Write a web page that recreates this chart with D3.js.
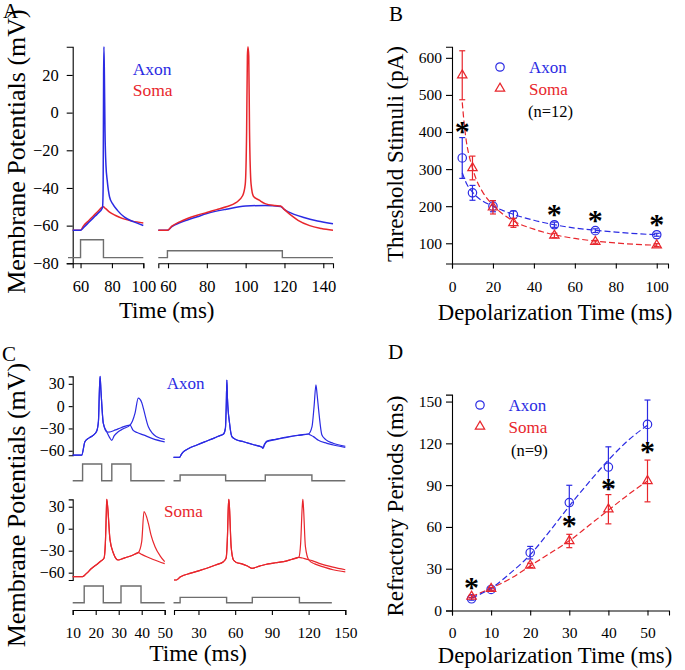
<!DOCTYPE html>
<html><head><meta charset="utf-8">
<script src="https://cdn.jsdelivr.net/npm/d3@7"></script>
<style>html,body{margin:0;padding:0;background:#fff;}</style>
</head><body>
<script>
// ---------- Panel A data (time ms, membrane potential mV) ----------
const aTicksY = [-80, -60, -40, -20, 0, 20];
const aTicksXLeft = [60, 80, 100];
const aTicksXRight = [60, 80, 100, 120, 140];
const aAxonLeft = [[55,-62.5],[60,-62.5],[62,-61],[65,-58.5],[68,-56],[71,-53.5],[74,-50.5],[74.4,-40],[74.7,20],[74.9,35],[75.2,20],[75.6,-10],[76.2,-28],[77,-36],[78.5,-44.8],[80.5,-48.5],[83.5,-51.9],[88,-55.5],[94,-58],[100,-59.9]];
const aSomaLeft = [[55,-62.5],[60,-62.5],[62,-60],[65,-57.5],[68,-55],[71,-52.5],[74.5,-50],[76,-51],[78.5,-52.8],[82,-54.5],[87,-56.3],[93,-57.6],[100,-58.6]];
const aAxonRight = [[55,-62.5],[59.7,-62.5],[62,-60.5],[66,-58.5],[70,-57],[75,-55.3],[80,-53.6],[90,-51.3],[100,-49.6],[110,-49.3],[118,-49.8],[120,-51.5],[125,-54],[130,-55.7],[137,-57.5],[145,-59]];
const aSomaRight = [[55,-62.5],[59.7,-62.5],[62,-60.3],[66,-58],[70,-56.2],[75,-54.5],[80,-53],[85,-51.5],[90,-50],[95,-47.8],[98.5,-44],[99.8,-38],[100.5,-10],[100.9,30],[101.2,35],[101.6,30],[102,-10],[102.8,-38],[104,-44.4],[107,-46.5],[110,-48.3],[115,-49.3],[118,-49.6],[120,-51.5],[124,-55],[127,-57.2],[133,-60],[139,-61.5],[145,-62.5]];
const aStimLeft = [[52,-77],[60,-67.5],[74.6,-77],[100,-77]];
const aStimRight = [[55,-77],[59.7,-73.3],[118.9,-77],[145,-77]];

// ---------- Panel B data ----------
const bTicksY = [100, 200, 300, 400, 500, 600];
const bTicksX = [0, 20, 40, 60, 80, 100];
const bDepol = [5, 10, 20, 30, 50, 70, 100];
const bAxonMean = [330, 236, 200, 177, 150, 134, 123];
const bAxonErr = [55, 20, 15, 10, 7, 5, 4];
const bSomaMean = [553, 303, 197, 155, 121, 104, 95];
const bSomaErr = [66, 32, 18, 12, 6, 4, 4];
const bAxonFit = [[5,290],[7,262],[10,238],[12,226],[15,214],[20,200],[25,188],[30,178],[40,162],[50,150],[60,141],[70,135],[80,130],[90,126],[100,123]];
const bSomaFit = [[5,480],[6,420],[7,375],[8,345],[10,303],[12,270],[15,238],[20,203],[25,178],[30,160],[40,138],[50,123],[60,113],[70,106],[80,101],[90,97],[100,95]];
const bStarX = [5, 50, 70, 100];
const bStarY = [414, 190, 174, 164];

// ---------- Panel C data ----------
const cTicksY = [-60, -30, 0, 30];
const cTicksXLeft = [10, 20, 30, 40, 50];
const cTicksXRight = [30, 60, 90, 120, 150];
const cAxonLeft1 = [[10,-66],[13.9,-66],[15.3,-48],[17,-43],[19,-39],[20.5,-33],[21.2,-20],[21.6,20],[21.9,40],[22.3,20],[23.3,-23],[24.8,-34.5],[26,-42],[27,-46],[28,-40],[29.8,-34.5],[32,-30.5],[34.9,-25.5],[36,-20],[37.1,-9.5],[38.5,10.7],[40,5],[40.7,-2.7],[42.9,-27.8],[44.5,-36],[46.5,-41.2],[50,-44.6]];
const cAxonLeft2 = [[10,-66],[13.9,-66],[15.3,-48],[17,-43],[19,-39],[20.5,-33],[21.2,-20],[21.6,20],[21.9,40],[22.3,20],[23.3,-23],[24.8,-34.5],[25.7,-35],[28.6,-32],[31,-29],[34.9,-25.5],[36.3,-32.6],[38,-35.5],[40.7,-38.7],[45,-44],[50,-48]];
const cAxonRight1 = [[9.6,-69],[14.5,-69],[16,-65],[17.8,-61.3],[22,-57],[28.7,-52.3],[35,-48],[42.3,-43.3],[47,-40],[50.5,-37.5],[52,-30],[52.7,0],[53.2,35],[53.7,10],[55.4,-23],[57.3,-41],[60,-44.5],[66.9,-47.9],[75,-52],[81.9,-55.4],[82.7,-57],[84,-52],[85.9,-48],[93,-45],[102.2,-42],[111,-39.5],[119.9,-37.5],[122.8,-27.6],[124.5,0],[126,28.6],[127,15],[128.2,-5],[130.9,-38.9],[134,-45],[140,-50],[150,-54]];
const cAxonRight2 = [[9.6,-69],[14.5,-69],[16,-65],[17.8,-61.3],[22,-57],[28.7,-52.3],[35,-48],[42.3,-43.3],[47,-40],[50.5,-37.5],[52,-30],[52.7,0],[53.2,35],[53.7,10],[55.4,-23],[57.3,-41],[60,-44.5],[66.9,-47.9],[75,-52],[81.9,-55],[82.7,-55.5],[84,-51],[85.9,-47],[93,-44.5],[102.2,-41.5],[111,-39.2],[119.9,-37.5],[121,-38.5],[124,-41],[128,-46],[135,-50],[142,-53],[150,-55.5]];
const cSomaLeft1 = [[10,-65.5],[14.3,-65.5],[16,-61],[18.3,-54],[20,-50],[21.9,-45],[23.6,-40.4],[24.2,-20],[24.6,20],[24.8,40],[25.2,30],[26.2,-14.5],[27.7,-33.5],[29.8,-42.7],[32,-40.5],[34.2,-38.2],[36.5,-35.5],[38.5,-32.7],[40,-17.7],[41,23.2],[42.9,7.3],[44,-8],[45.8,-24.5],[48,-37],[50,-45]];
const cSomaLeft2 = [[10,-65.5],[14.3,-65.5],[16,-61],[18.3,-54],[20,-50],[21.9,-45],[23.6,-40.4],[24.2,-20],[24.6,20],[24.8,40],[25.2,30],[26.2,-14.5],[27.7,-33.5],[29.8,-42.7],[32,-40.5],[34.2,-38.2],[36.5,-35.5],[38.5,-32.7],[40,-35],[42.2,-38.2],[45,-42],[50,-47.7]];
const cSomaRight1 = [[10,-70],[12,-70],[15,-66],[18,-63.5],[23,-61],[30,-57.5],[36.8,-54],[44,-49.5],[50.4,-45],[52.6,-40],[53.7,-10],[54.4,30],[54.8,40],[55.3,30],[56.7,-24.5],[58.6,-42.7],[61,-46],[65.5,-48],[70,-51],[73.6,-54],[80,-51],[87,-48],[93,-46.5],[99.6,-45],[106,-42],[112,-39],[113.5,-20],[114.8,30],[115.3,40],[115.8,30],[117.4,-24.5],[120.2,-42.7],[125,-48],[132,-52],[140,-56],[150,-59]];
const cSomaRight2 = [[10,-70],[12,-70],[15,-66],[18,-63.5],[23,-61],[30,-57.5],[36.8,-54],[44,-49.5],[50.4,-45],[52.6,-40],[53.7,-10],[54.4,30],[54.8,40],[55.3,30],[56.7,-24.5],[58.6,-42.7],[61,-46],[65.5,-48],[70,-51],[73.6,-54],[80,-51],[87,-48],[93,-46.5],[99.6,-45],[106,-42],[112,-39],[115,-40],[118,-41.5],[122.8,-43.5],[130,-48],[140,-52.5],[150,-56]];
// stimulus steps (relative amplitude)
const cStimTopLeft = [[10,0],[14.3,1],[22.6,0],[27,1],[35.3,0],[50,0]];
const cStimTopRight = [[9.6,0],[15,0.34],[52.2,0],[84.6,0.34],[122.7,0],[150,0]];
const cStimBotLeft = [[10,0],[15,1],[23.3,0],[31,1],[39.7,0],[50,0]];
const cStimBotRight = [[9.6,0],[15,0.32],[53,0],[74,0.32],[112.5,0],[139,0]];

// ---------- Panel D data ----------
const dTicksY = [0, 30, 60, 90, 120, 150];
const dTicksX = [0, 10, 20, 30, 40, 50];
const dDepol = [5, 10, 20, 30, 40, 50];
const dAxonMean = [8.4, 15.1, 41.5, 77.5, 103, 133.6];
const dAxonErr = [1, 1, 4.5, 12.4, 14.5, 17.5];
const dSomaMean = [10, 15.6, 32.4, 49.9, 72.7, 93];
const dSomaErr = [1, 1, 1.5, 4.8, 10.5, 15];
const dAxonFit = [[5,9],[10,16],[15,27],[20,40],[25,57],[30,75],[35,92],[40,108],[45,122],[50,133]];
const dSomaFit = [[5,10],[10,16],[15,23],[20,32],[25,41],[30,50],[35,61],[40,72],[45,83],[50,93]];
const dStarX = [5, 30, 40, 50];
const dStarY = [19.6, 64.2, 90.6, 117.5];

// ---------- drawing ----------
const FONT = "Liberation Serif, Times New Roman, serif";
const BLUE = "#2b2be3", RED = "#e8262c", GRAY = "#6e6e6e";
const svg = d3.select("body").append("svg").attr("width", 685).attr("height", 670)
  .attr("font-family", FONT);
svg.append("rect").attr("width", 685).attr("height", 670).attr("fill", "#fff");

function styleAxis(g, fs) {
  g.attr("font-family", FONT);
  g.selectAll("path.domain").attr("stroke", "#000").attr("stroke-width", 1.1);
  g.selectAll(".tick line").attr("stroke", "#000").attr("stroke-width", 1.1);
  g.selectAll(".tick text").attr("font-family", FONT).attr("font-size", fs).attr("fill", "#000");
}
function xAxis(scale, ticks, y, fs, tickLen, baseOff) {
  const pad = baseOff - 0.71 * fs - tickLen;
  const g = svg.append("g").attr("transform", `translate(0,${y})`)
    .call(d3.axisBottom(scale).tickValues(ticks).tickSizeOuter(0).tickSize(tickLen).tickPadding(pad));
  styleAxis(g, fs);
  return g;
}
function yAxis(scale, ticks, x, fs, tickLen, pad) {
  const g = svg.append("g").attr("transform", `translate(${x},0)`)
    .call(d3.axisLeft(scale).tickValues(ticks).tickSizeOuter(0).tickSize(tickLen).tickPadding(pad));
  styleAxis(g, fs);
  return g;
}
function trace(data, sx, sy, color, w, dash) {
  const p = svg.append("path").datum(data)
    .attr("d", d3.line().x(d => sx(d[0])).y(d => sy(d[1])).curve(d3.curveMonotoneX))
    .attr("fill", "none").attr("stroke", color).attr("stroke-width", w || 1.3)
    .attr("stroke-linejoin", "round");
  if (dash) p.attr("stroke-dasharray", dash);
  return p;
}
function stim(data, sx, sy) {
  svg.append("path").datum(data)
    .attr("d", d3.line().x(d => sx(d[0])).y(d => sy(d[1])).curve(d3.curveStepAfter))
    .attr("fill", "none").attr("stroke", GRAY).attr("stroke-width", 1.4);
}
function text(x, y, s, fs, color, anchor, rot) {
  const t = svg.append("text").attr("x", x).attr("y", y).text(s)
    .attr("font-family", FONT)
    .attr("font-size", fs).attr("fill", color || "#000")
    .attr("text-anchor", anchor || "start");
  if (rot) t.attr("transform", `rotate(${rot},${x},${y})`);
  return t;
}
function star(x, y) {
  svg.append("text").attr("x", x).attr("y", y + 14).text("*").attr("font-family", FONT)
    .attr("font-size", 30).attr("font-weight", "bold").attr("text-anchor", "middle").attr("fill", "#000");
}
function markers(xs, means, errs, sx, sy, color, kind) {
  xs.forEach((xv, i) => {
    const cx = sx(xv), cy = sy(means[i]);
    const y1 = sy(means[i] + errs[i]), y2 = sy(means[i] - errs[i]);
    svg.append("line").attr("x1", cx).attr("x2", cx).attr("y1", y1).attr("y2", y2).attr("stroke", color).attr("stroke-width", 1.2);
    [y1, y2].forEach(yy => svg.append("line").attr("x1", cx - 3).attr("x2", cx + 3).attr("y1", yy).attr("y2", yy).attr("stroke", color).attr("stroke-width", 1.2));
    if (kind === "circle") {
      svg.append("circle").attr("cx", cx).attr("cy", cy).attr("r", 4.2).attr("fill", "none").attr("stroke", color).attr("stroke-width", 1.2);
    } else {
      svg.append("path").attr("d", d3.symbol(d3.symbolTriangle, 38)()).attr("transform", `translate(${cx},${cy})`)
        .attr("fill", "none").attr("stroke", color).attr("stroke-width", 1.2);
    }
  });
}
function legendMark(x, y, color, kind) {
  if (kind === "circle") svg.append("circle").attr("cx", x).attr("cy", y).attr("r", 4.2).attr("fill", "none").attr("stroke", color).attr("stroke-width", 1.2);
  else svg.append("path").attr("d", d3.symbol(d3.symbolTriangle, 38)()).attr("transform", `translate(${x},${y})`).attr("fill", "none").attr("stroke", color).attr("stroke-width", 1.2);
}

// ===== Panel A =====
const aY = d3.scaleLinear().domain([-80, 35]).range([263.3, 46.7]);
const aXL = d3.scaleLinear().domain([55, 100]).range([72.7, 143.3]);
const aXR = d3.scaleLinear().domain([55, 145]).range([158.3, 333]);
yAxis(aY, aTicksY, 72.7, 16.5, 6, 8);
xAxis(aXL, aTicksXLeft, 263.3, 16.5, 5, 28.5);
xAxis(aXR, aTicksXRight, 263.3, 16.5, 5, 28.5);
stim(aStimLeft, aXL, aY);
stim(aStimRight, aXR, aY);
trace(aSomaLeft, aXL, aY, RED, 1.5);
trace(aAxonLeft, aXL, aY, BLUE, 1.5);
trace(aAxonRight, aXR, aY, BLUE, 1.5);
trace(aSomaRight, aXR, aY, RED, 1.5);
text(132.7, 75, "Axon", 17.5, BLUE);
text(132.7, 96, "Soma", 17.5, RED);
text(166.7, 318, "Time (ms)", 23, "#000", "middle");
text(25, 151.5, "Membrane Potentials (mV)", 26, "#000", "middle", -90);
text(3, 18, "A", 21);

// ===== Panel B =====
const bX = d3.scaleLinear().domain([0, 105.5]).range([452, 668]);
const bY = d3.scaleLinear().domain([45.5, 630]).range([263.5, 46.7]);
yAxis(bY, bTicksY, 452, 15.5, 6, 4);
xAxis(bX, bTicksX, 263.5, 15.5, 5, 28.2);
trace(bSomaFit, bX, bY, RED, 1.2, "6,3");
trace(bAxonFit, bX, bY, BLUE, 1.2, "6,3");
markers(bDepol, bAxonMean, bAxonErr, bX, bY, BLUE, "circle");
markers(bDepol, bSomaMean, bSomaErr, bX, bY, RED, "tri");
bStarX.forEach((xv, i) => star(bX(xv), bY(bStarY[i])));
legendMark(500, 67, BLUE, "circle");
legendMark(500, 88.5, RED, "tri");
text(529, 73, "Axon", 17, BLUE);
text(529, 95, "Soma", 17, RED);
text(528, 117, "(n=12)", 16.5, "#000");
text(555, 320, "Depolarization Time (ms)", 22.7, "#000", "middle");
text(403, 154, "Threshold Stimuli (pA)", 23, "#000", "middle", -90);
text(389, 21, "B", 21);

// ===== Panel C =====
const cYTop = d3.scaleLinear().domain([-66, 40]).range([455.2, 376.4]);
const cYBot = d3.scaleLinear().domain([-70, 40]).range([580, 499.4]);
const cXL = d3.scaleLinear().domain([10, 50]).range([72.7, 164.7]);
const cXR = d3.scaleLinear().domain([10, 150]).range([174, 345.3]);
const cStimTopY = d3.scaleLinear().domain([0, 1]).range([480.7, 464]);
const cStimBotY = d3.scaleLinear().domain([0, 1]).range([602.7, 586]);
yAxis(cYTop, cTicksY, 72.7, 16, 4, 4);
yAxis(cYBot, cTicksY, 72.7, 16, 4, 4);
xAxis(cXL, cTicksXLeft, 610, 15.5, 5, 27.8);
xAxis(cXR, cTicksXRight, 610, 15.5, 5, 27.8);
trace(cAxonLeft2, cXL, cYTop, BLUE, 1.2);
trace(cAxonLeft1, cXL, cYTop, BLUE, 1.2);
trace(cAxonRight2, cXR, cYTop, BLUE, 1.2);
trace(cAxonRight1, cXR, cYTop, BLUE, 1.2);
trace(cSomaLeft2, cXL, cYBot, RED, 1.2);
trace(cSomaLeft1, cXL, cYBot, RED, 1.2);
trace(cSomaRight2, cXR, cYBot, RED, 1.2);
trace(cSomaRight1, cXR, cYBot, RED, 1.2);
stim(cStimTopLeft, cXL, cStimTopY);
stim(cStimTopRight, cXR, cStimTopY);
stim(cStimBotLeft, cXL, cStimBotY);
stim(cStimBotRight, cXR, cStimBotY);
text(166.7, 389, "Axon", 17, BLUE);
text(164, 517, "Soma", 17, RED);
text(198, 661, "Time (ms)", 23.5, "#000", "middle");
text(25, 505, "Membrane Potentials (mV)", 26, "#000", "middle", -90);
text(2, 361, "C", 21);

// ===== Panel D =====
const dX = d3.scaleLinear().domain([0, 55.5]).range([452, 669]);
const dY = d3.scaleLinear().domain([0, 155]).range([610.5, 394.6]);
yAxis(dY, dTicksY, 452, 15.5, 6, 4);
xAxis(dX, dTicksX, 610.5, 15.5, 5, 27.8);
trace(dSomaFit, dX, dY, RED, 1.2, "6,3");
trace(dAxonFit, dX, dY, BLUE, 1.2, "6,3");
markers(dDepol, dAxonMean, dAxonErr, dX, dY, BLUE, "circle");
markers(dDepol, dSomaMean, dSomaErr, dX, dY, RED, "tri");
dStarX.forEach((xv, i) => star(dX(xv), dY(dStarY[i])));
legendMark(480, 405, BLUE, "circle");
legendMark(480, 426.5, RED, "tri");
text(508.5, 411, "Axon", 17, BLUE);
text(508.5, 432.5, "Soma", 17, RED);
text(511, 456, "(n=9)", 16.5, "#000");
text(555, 663, "Depolarization Time (ms)", 22.7, "#000", "middle");
text(403, 506, "Refractory Periods (ms)", 23, "#000", "middle", -90);
text(388, 359, "D", 21);
</script>
</body></html>
